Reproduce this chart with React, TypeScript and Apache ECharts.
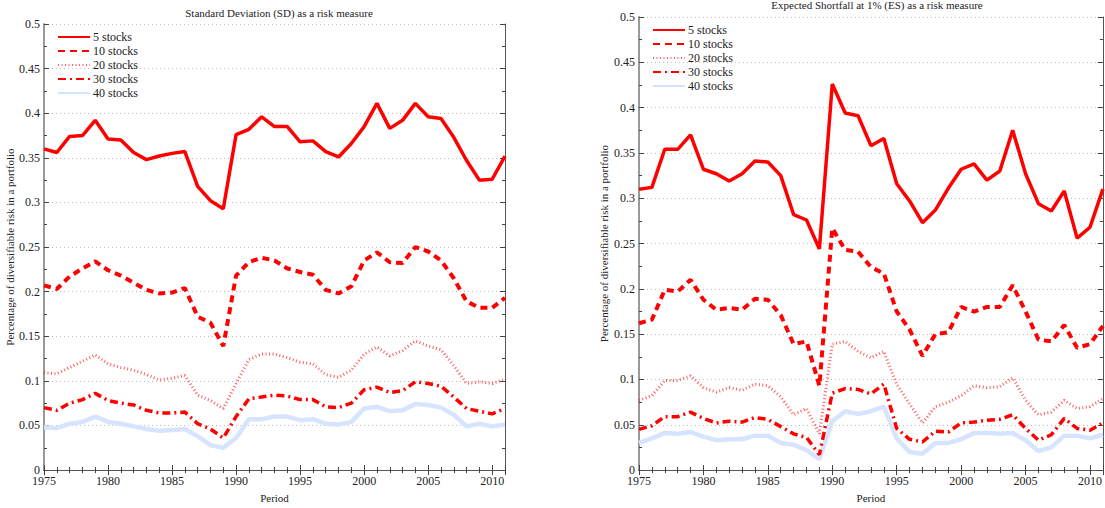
import React, { useEffect, useRef } from "react";
import * as echarts from "echarts";

const years = Array.from({ length: 37 }, (_, i) => 1975 + i);
const seriesNames = ["5 stocks", "10 stocks", "20 stocks", "30 stocks", "40 stocks"];

const sd5 = [0.360,0.356,0.374,0.375,0.392,0.371,0.370,0.356,0.348,0.352,0.355,0.357,0.318,0.302,0.293,0.376,0.382,0.396,0.385,0.385,0.368,0.369,0.357,0.351,0.366,0.385,0.411,0.383,0.392,0.411,0.396,0.394,0.373,0.347,0.325,0.326,0.352];
const sd10 = [0.207,0.203,0.217,0.226,0.234,0.224,0.218,0.210,0.202,0.198,0.199,0.204,0.172,0.165,0.139,0.218,0.233,0.238,0.235,0.226,0.222,0.219,0.202,0.198,0.206,0.235,0.244,0.233,0.232,0.250,0.245,0.235,0.215,0.189,0.182,0.182,0.193];
const sd20 = [0.109,0.108,0.115,0.122,0.129,0.119,0.115,0.112,0.107,0.101,0.103,0.106,0.084,0.078,0.069,0.097,0.124,0.130,0.130,0.126,0.121,0.119,0.107,0.104,0.112,0.130,0.138,0.128,0.134,0.145,0.139,0.135,0.117,0.097,0.099,0.097,0.102];
const sd30 = [0.070,0.067,0.075,0.079,0.086,0.078,0.075,0.073,0.067,0.064,0.064,0.065,0.052,0.046,0.036,0.060,0.080,0.082,0.084,0.083,0.079,0.079,0.071,0.070,0.075,0.090,0.093,0.087,0.089,0.099,0.097,0.094,0.082,0.069,0.066,0.063,0.069];
const sd40 = [0.048,0.047,0.052,0.054,0.060,0.054,0.052,0.049,0.046,0.044,0.045,0.046,0.038,0.028,0.025,0.036,0.057,0.057,0.060,0.060,0.056,0.057,0.052,0.051,0.054,0.069,0.071,0.066,0.067,0.074,0.073,0.070,0.062,0.049,0.052,0.049,0.051];

const es5 = [0.310,0.312,0.354,0.354,0.370,0.332,0.327,0.319,0.327,0.341,0.340,0.325,0.282,0.276,0.244,0.426,0.394,0.391,0.358,0.366,0.316,0.297,0.273,0.287,0.311,0.332,0.338,0.320,0.330,0.375,0.327,0.294,0.286,0.308,0.256,0.268,0.310];
const es10 = [0.162,0.166,0.199,0.197,0.210,0.188,0.177,0.179,0.177,0.189,0.188,0.171,0.139,0.142,0.093,0.267,0.243,0.241,0.224,0.217,0.175,0.155,0.126,0.150,0.152,0.180,0.175,0.180,0.180,0.204,0.175,0.144,0.142,0.160,0.135,0.139,0.159];
const es20 = [0.077,0.082,0.099,0.099,0.104,0.091,0.086,0.091,0.088,0.095,0.093,0.081,0.061,0.068,0.040,0.139,0.142,0.131,0.124,0.131,0.095,0.073,0.052,0.070,0.075,0.082,0.093,0.091,0.092,0.102,0.077,0.061,0.064,0.077,0.068,0.070,0.079];
const es30 = [0.045,0.049,0.059,0.059,0.064,0.057,0.052,0.054,0.053,0.058,0.056,0.048,0.040,0.036,0.017,0.085,0.090,0.089,0.084,0.095,0.046,0.034,0.031,0.043,0.042,0.052,0.053,0.055,0.056,0.061,0.046,0.033,0.039,0.057,0.046,0.044,0.052];
const es40 = [0.030,0.035,0.041,0.040,0.042,0.037,0.033,0.034,0.034,0.038,0.038,0.030,0.028,0.022,0.012,0.054,0.065,0.062,0.065,0.070,0.035,0.020,0.018,0.030,0.030,0.034,0.041,0.041,0.040,0.041,0.033,0.021,0.025,0.038,0.038,0.035,0.039];

const titles = [
  "Standard Deviation (SD) as a risk measure",
  "Expected Shortfall at 1% (ES) as a risk measure",
];
const yName = "Percentage of diversifiable risk in a portfolio";
const xName = "Period";

const FONT = "'Liberation Serif', 'Times New Roman', serif";

const lineStyles: any[] = [
  { color: "#ff0000", width: 3.5, type: "solid" },
  { color: "#ff0000", width: 4, type: [7, 5] },
  { color: "rgba(255,40,40,0.75)", width: 3, type: [1, 2.5] },
  { color: "#ff0000", width: 3.5, type: [8, 4, 2, 4] },
  { color: "#d6e4ff", width: 4.5, type: "solid" },
];

export default function App() {
  const ref = useRef<HTMLDivElement>(null);
  useEffect(() => {
    if (!ref.current) return;
    const chart = echarts.init(ref.current, undefined, { renderer: "svg" });
    const grids = [
      { left: 44, top: 24, width: 461, height: 453 },
      { left: 639, top: 17, width: 465, height: 460 },
    ];
    const sets = [
      [sd5, sd10, sd20, sd30, sd40],
      [es5, es10, es20, es30, es40],
    ];
    const xAxes: any[] = [];
    const yAxes: any[] = [];
    const series: any[] = [];
    grids.forEach((g, gi) => {
      const baseX = {
        type: "value",
        gridIndex: gi,
        min: 1975,
        max: 2011,
        interval: 5,
        splitLine: { show: false },
        axisTick: { show: true, inside: true, length: 5, lineStyle: { color: "#444" } },
        minorTick: { show: true, splitNumber: 5, length: 3, lineStyle: { color: "#444" } },
        minorSplitLine: { show: false },
      };
      xAxes.push({
        ...baseX,
        position: "bottom",
        name: xName,
        nameLocation: "middle",
        nameGap: 17,
        nameTextStyle: { fontFamily: FONT, fontSize: 11, color: "#222" },
        axisLine: { show: true, lineStyle: { color: "#333", width: 1 } },
        axisLabel: {
          fontFamily: FONT,
          fontSize: 12,
          color: "#222",
          margin: 5,
          showMaxLabel: false,
          formatter: (v: number) => String(v),
        },
      });
      xAxes.push({
        ...baseX,
        position: "top",
        axisLine: { show: true, lineStyle: { color: "#555", width: 1 } },
        axisLabel: { show: false },
      });
      const baseY = {
        type: "value",
        gridIndex: gi,
        min: 0,
        max: 0.5,
        interval: 0.05,
        axisTick: { show: true, inside: true, length: 5, lineStyle: { color: "#444" } },
        minorTick: { show: true, splitNumber: 2, length: 3, lineStyle: { color: "#444" } },
        minorSplitLine: { show: false },
      };
      yAxes.push({
        ...baseY,
        position: "left",
        name: yName,
        nameLocation: "middle",
        nameGap: gi === 0 ? 28 : 30,
        nameTextStyle: { fontFamily: FONT, fontSize: 11, color: "#222" },
        axisLine: { show: true, lineStyle: { color: "#999", width: 2 } },
        axisLabel: {
          fontFamily: FONT,
          fontSize: 12,
          color: "#222",
          margin: 4,
          formatter: (v: number) => String(Math.round(v * 1000) / 1000),
        },
        splitLine: { show: true, lineStyle: { color: "#bbb", type: [1, 3], width: 1 } },
      });
      yAxes.push({
        ...baseY,
        position: "right",
        axisLine: { show: true, lineStyle: { color: "#555", width: 1 } },
        axisLabel: { show: false },
        splitLine: { show: false },
      });
      sets[gi].forEach((vals, si) => {
        series.push({
          name: seriesNames[si],
          type: "line",
          xAxisIndex: gi * 2,
          yAxisIndex: gi * 2,
          symbol: "none",
          showSymbol: false,
          lineStyle: lineStyles[si],
          itemStyle: { color: lineStyles[si].color },
          data: years.map((y, i) => [y, vals[i]]),
          z: 10 - si,
        });
      });
    });
    const legendBase = {
      data: seriesNames,
      orient: "vertical",
      itemWidth: 32,
      itemHeight: 11,
      itemGap: 2,
      itemStyle: { opacity: 0 },
      textStyle: { fontFamily: FONT, fontSize: 12, color: "#222", padding: [0, 0, 0, -2] },
      selectedMode: false,
    };
    chart.setOption({
      animation: false,
      backgroundColor: "#fff",
      title: [
        {
          text: titles[0],
          left: 274,
          top: 2,
          textAlign: "center",
          textStyle: { fontFamily: FONT, fontSize: 11, fontWeight: "normal", color: "#222" },
        },
        {
          text: titles[1],
          left: 872,
          top: -6,
          textAlign: "center",
          textStyle: { fontFamily: FONT, fontSize: 11, fontWeight: "normal", color: "#222" },
        },
      ],
      legend: [
        { ...legendBase, left: 52, top: 26 },
        { ...legendBase, left: 647, top: 19 },
      ],
      grid: grids,
      xAxis: xAxes,
      yAxis: yAxes,
      series,
    });
    return () => chart.dispose();
  }, []);
  return (
    <div
      ref={ref}
      style={{ position: "fixed", left: 0, top: 0, width: 1105, height: 508, background: "#fff" }}
    />
  );
}
